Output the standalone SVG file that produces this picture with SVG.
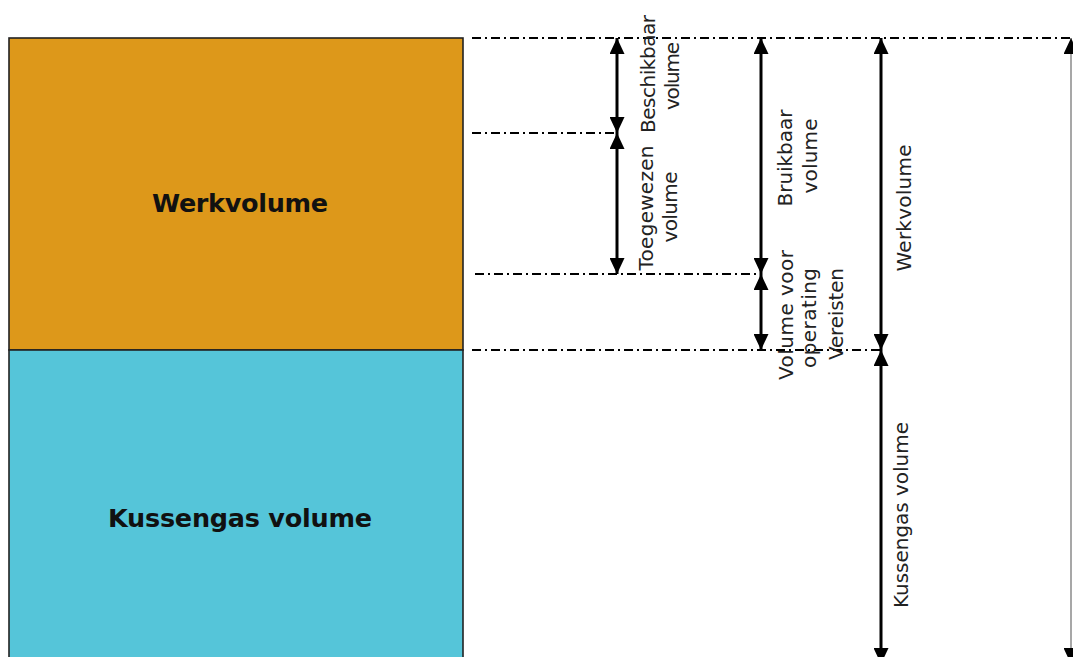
<svg xmlns="http://www.w3.org/2000/svg" width="1073" height="657" viewBox="0 0 1073 657">
<style>
.box{stroke:#222;stroke-width:1.6}
.dd{stroke:#000;stroke-width:2.2;stroke-dasharray:9 4 2 4;fill:none}
.arr{stroke:#000;stroke-width:3;fill:none;marker-start:url(#ah);marker-end:url(#ah)}
.thin{stroke:#8a8a8a;stroke-width:1.5;fill:none;marker-start:url(#ah);marker-end:url(#ah)}
.big{font-family:"DejaVu Sans",sans-serif;font-weight:bold;font-size:25.5px;fill:#111;text-anchor:middle}
.lbl{font-family:"DejaVu Sans",sans-serif;font-size:20px;fill:#222;text-anchor:middle}
</style>
<defs>
<marker id="ah" viewBox="0 0 16 15" refX="16" refY="7.5" markerWidth="16" markerHeight="15" markerUnits="userSpaceOnUse" orient="auto-start-reverse">
<path d="M0,0 L16,7.5 L0,15 z" fill="#000"/>
</marker>
</defs>
<rect width="1073" height="657" fill="#fff"/>
<g id="werkvolume">
<rect class="box" x="9" y="38" width="454" height="312" fill="#DD981A"/>
<text class="big" x="240" y="212" textLength="176">Werkvolume</text>
</g>
<g id="kussengas">
<rect class="box" x="9" y="350" width="454" height="320" fill="#55C5D9"/>
<text class="big" x="240" y="527" textLength="264">Kussengas volume</text>
</g>
<g id="connectors">
<line class="dd" x1="472" y1="38" x2="1073" y2="38"/>
<line class="dd" x1="472" y1="133" x2="617" y2="133"/>
<line class="dd" x1="475" y1="274" x2="761" y2="274"/>
<line class="dd" x1="472" y1="350" x2="881" y2="350"/>
<line class="arr" x1="617" y1="38" x2="617" y2="133"/>
<line class="arr" x1="617" y1="133" x2="617" y2="274"/>
<line class="arr" x1="761" y1="38" x2="761" y2="274"/>
<line class="arr" x1="761" y1="274" x2="761" y2="350"/>
<line class="arr" x1="881" y1="38" x2="881" y2="350"/>
<line class="arr" x1="881" y1="350" x2="881" y2="664"/>
<line class="thin" x1="1071" y1="38" x2="1071" y2="664"/>
</g>
<g id="beschikbaar">
<text class="lbl" transform="translate(655,74) rotate(-90)" textLength="118">Beschikbaar</text>
<text class="lbl" transform="translate(679,76) rotate(-90)" textLength="68">volume</text>
</g>
<g id="toegewezen">
<text class="lbl" transform="translate(653,208) rotate(-90)" textLength="125">Toegewezen</text>
<text class="lbl" transform="translate(677,207) rotate(-90)" textLength="71">volume</text>
</g>
<g id="bruikbaar">
<text class="lbl" transform="translate(792,158) rotate(-90)" textLength="97">Bruikbaar</text>
<text class="lbl" transform="translate(817,156) rotate(-90)" textLength="75">volume</text>
</g>
<g id="operating">
<text class="lbl" transform="translate(793,315) rotate(-90)" textLength="130">Volume voor</text>
<text class="lbl" transform="translate(816,318) rotate(-90)" textLength="100">operating</text>
<text class="lbl" transform="translate(843,314) rotate(-90)" textLength="92">Vereisten</text>
</g>
<g id="werkvolume-dim">
<text class="lbl" transform="translate(911,208) rotate(-90)" textLength="127">Werkvolume</text>
</g>
<g id="kussengas-dim">
<text class="lbl" transform="translate(908,515) rotate(-90)" textLength="186">Kussengas volume</text>
</g>
</svg>
